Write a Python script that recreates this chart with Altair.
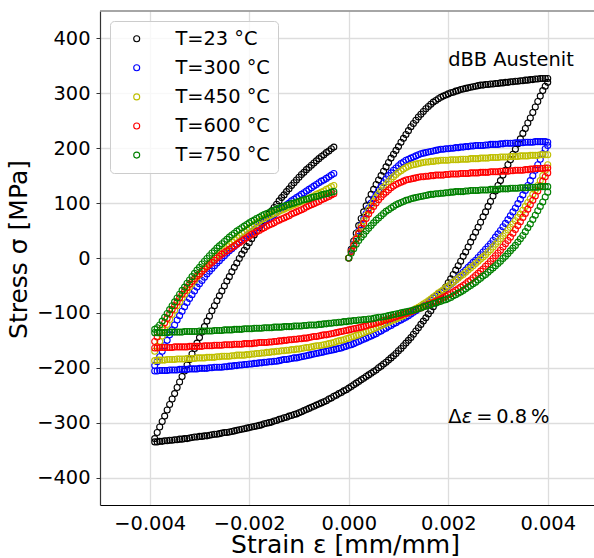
import altair as alt
import pandas as pd

# Strain grids in microstrain (µm/m) for the three branches of each loop
LOAD_STRAIN_UE = [
    0, 50, 100, 150, 200, 250, 300, 350, 400, 450, 500, 550, 600, 650, 700, 750, 800, 850, 900, 950,
    1000, 1050, 1100, 1150, 1200, 1250, 1300, 1350, 1400, 1450, 1500, 1550, 1600, 1650, 1700, 1750, 1800, 1850, 1900, 1950,
    2000, 2050, 2100, 2150, 2200, 2250, 2300, 2350, 2400, 2450, 2500, 2550, 2600, 2650, 2700, 2750, 2800, 2850, 2900, 2950,
    3000, 3050, 3100, 3150, 3200, 3250, 3300, 3350, 3400, 3450, 3500, 3550, 3600, 3650, 3700, 3750, 3800, 3850, 3900, 3950,
    4000]
UNLOAD_STRAIN_UE = [
    4000, 3950, 3900, 3850, 3800, 3750, 3700, 3650, 3600, 3550, 3500, 3450, 3400, 3350, 3300, 3250, 3200, 3150, 3100, 3050,
    3000, 2950, 2900, 2850, 2800, 2750, 2700, 2650, 2600, 2550, 2500, 2450, 2400, 2350, 2300, 2250, 2200, 2150, 2100, 2050,
    2000, 1950, 1900, 1850, 1800, 1750, 1700, 1650, 1600, 1550, 1500, 1450, 1400, 1350, 1300, 1250, 1200, 1150, 1100, 1050,
    1000, 950, 900, 850, 800, 750, 700, 650, 600, 550, 500, 450, 400, 350, 300, 250, 200, 150, 100, 50,
    0, -50, -100, -150, -200, -250, -300, -350, -400, -450, -500, -550, -600, -650, -700, -750, -800, -850, -900, -950,
    -1000, -1050, -1100, -1150, -1200, -1250, -1300, -1350, -1400, -1450, -1500, -1550, -1600, -1650, -1700, -1750, -1800, -1850, -1900, -1950,
    -2000, -2050, -2100, -2150, -2200, -2250, -2300, -2350, -2400, -2450, -2500, -2550, -2600, -2650, -2700, -2750, -2800, -2850, -2900, -2950,
    -3000, -3050, -3100, -3150, -3200, -3250, -3300, -3350, -3400, -3450, -3500, -3550, -3600, -3650, -3700, -3750, -3800, -3850, -3900]
RELOAD_STRAIN_UE = [
    -3900, -3850, -3800, -3750, -3700, -3650, -3600, -3550, -3500, -3450, -3400, -3350, -3300, -3250, -3200, -3150, -3100, -3050, -3000, -2950,
    -2900, -2850, -2800, -2750, -2700, -2650, -2600, -2550, -2500, -2450, -2400, -2350, -2300, -2250, -2200, -2150, -2100, -2050, -2000, -1950,
    -1900, -1850, -1800, -1750, -1700, -1650, -1600, -1550, -1500, -1450, -1400, -1350, -1300, -1250, -1200, -1150, -1100, -1050, -1000, -950,
    -900, -850, -800, -750, -700, -650, -600, -550, -500, -450, -400, -350, -300]

# Stress (MPa) per temperature: loading, unloading, reloading
LOAD_23 = [
    0, 16, 31, 45, 59, 72, 84, 95, 106, 116, 125, 134, 142, 150, 158, 166, 174, 182, 189, 196,
    203, 211, 218, 225, 232, 239, 245, 251, 257, 262, 267, 272, 276, 280, 284, 287, 290, 293, 295, 297,
    299, 301, 302, 304, 305, 307, 308, 309, 310, 311, 312, 313, 314, 315, 315, 316, 316, 317, 317, 318,
    318, 319, 319, 320, 320, 321, 321, 322, 322, 323, 323, 324, 324, 325, 325, 326, 326, 327, 327, 327,
    327]
UNLOAD_23 = [
    320, 313, 305, 295, 285, 275, 265, 255, 246, 236, 227, 217, 208, 198, 189, 179, 170, 160, 151, 141,
    132, 122, 113, 103, 94, 84, 75, 65, 56, 47, 38, 29, 20, 11, 3, -6, -14, -22, -30, -38,
    -45, -53, -60, -68, -75, -82, -89, -96, -102, -109, -115, -121, -127, -133, -139, -145, -150, -155, -160, -165,
    -169, -174, -178, -182, -186, -190, -193, -197, -200, -204, -207, -210, -213, -216, -219, -222, -225, -228, -231, -234,
    -237, -240, -242, -245, -247, -250, -252, -255, -257, -260, -262, -264, -266, -268, -270, -272, -274, -276, -278, -280,
    -282, -284, -285, -287, -288, -290, -291, -293, -294, -296, -297, -299, -300, -301, -302, -304, -305, -306, -307, -308,
    -309, -310, -311, -312, -313, -314, -315, -316, -317, -318, -318, -319, -320, -321, -321, -322, -323, -324, -324, -325,
    -325, -326, -326, -327, -328, -329, -329, -330, -330, -331, -331, -332, -332, -333, -333, -334, -334, -335, -335]
RELOAD_23 = [
    -329, -318, -308, -298, -288, -277, -267, -257, -247, -236, -226, -216, -206, -195, -185, -175, -165, -155, -145, -135,
    -125, -115, -106, -96, -87, -78, -69, -60, -51, -42, -34, -25, -17, -9, -1, 7, 14, 21, 28, 35,
    42, 49, 55, 62, 68, 74, 80, 86, 92, 98, 104, 110, 115, 121, 126, 132, 137, 142, 147, 152,
    156, 161, 165, 169, 173, 177, 181, 185, 188, 192, 195, 199, 202]

LOAD_300 = [
    0, 13, 25, 37, 49, 60, 71, 81, 91, 100, 108, 116, 123, 130, 137, 144, 150, 155, 160, 164,
    168, 172, 175, 178, 180, 182, 184, 186, 188, 190, 191, 192, 193, 194, 195, 196, 197, 198, 198, 199,
    199, 200, 200, 201, 201, 202, 202, 203, 203, 204, 204, 205, 205, 205, 205, 206, 206, 207, 207, 207,
    207, 208, 208, 209, 209, 209, 209, 210, 210, 210, 210, 211, 211, 211, 211, 212, 212, 212, 212, 212,
    211]
UNLOAD_300 = [
    205, 199, 190, 180, 170, 160, 150, 141, 132, 123, 115, 107, 99, 91, 84, 77, 70, 63, 57, 50,
    44, 38, 32, 26, 21, 16, 11, 6, 1, -4, -8, -13, -17, -22, -26, -31, -35, -40, -44, -48,
    -52, -56, -59, -63, -66, -70, -73, -77, -80, -84, -87, -90, -93, -96, -99, -102, -105, -108, -110, -113,
    -115, -118, -120, -123, -125, -128, -130, -133, -135, -138, -140, -142, -144, -146, -148, -150, -152, -154, -156, -158,
    -159, -161, -162, -164, -165, -166, -167, -168, -169, -170, -171, -172, -173, -174, -175, -176, -177, -178, -179, -180,
    -181, -182, -182, -183, -184, -185, -185, -186, -187, -188, -188, -189, -189, -190, -190, -191, -191, -192, -192, -193,
    -193, -194, -194, -195, -195, -196, -196, -197, -197, -198, -198, -199, -199, -199, -199, -200, -200, -201, -201, -201,
    -201, -202, -202, -202, -202, -203, -203, -203, -203, -204, -204, -204, -204, -205, -205, -205, -205, -206, -206]
RELOAD_300 = [
    -196, -189, -180, -170, -160, -150, -140, -131, -122, -113, -105, -97, -89, -81, -74, -67, -60, -53, -47, -41,
    -35, -29, -24, -19, -14, -9, -5, 0, 4, 9, 13, 17, 21, 25, 29, 33, 37, 41, 44, 48,
    51, 55, 58, 62, 65, 69, 72, 76, 79, 83, 86, 90, 93, 97, 100, 104, 107, 110, 113, 116,
    119, 122, 125, 128, 131, 134, 137, 140, 142, 145, 148, 151, 154]

LOAD_450 = [
    0, 12, 24, 36, 47, 58, 68, 78, 87, 95, 103, 110, 117, 123, 129, 134, 139, 144, 148, 152,
    156, 159, 162, 165, 167, 169, 170, 171, 172, 173, 174, 175, 175, 176, 176, 177, 177, 178, 178, 178,
    178, 179, 179, 179, 179, 180, 180, 180, 180, 181, 181, 181, 181, 182, 182, 182, 182, 183, 183, 183,
    183, 184, 184, 184, 184, 185, 185, 185, 185, 186, 186, 186, 186, 187, 187, 187, 187, 188, 188, 188,
    188]
UNLOAD_450 = [
    170, 160, 150, 141, 132, 124, 116, 108, 101, 94, 87, 80, 74, 68, 62, 56, 51, 45, 40, 35,
    30, 25, 20, 15, 11, 6, 2, -2, -6, -10, -14, -18, -22, -26, -30, -33, -37, -40, -44, -47,
    -51, -54, -58, -61, -64, -68, -71, -75, -78, -81, -84, -87, -90, -92, -95, -97, -100, -102, -105, -107,
    -109, -111, -113, -115, -117, -119, -121, -123, -125, -127, -129, -131, -133, -134, -136, -138, -140, -141, -143, -144,
    -146, -147, -149, -150, -151, -152, -154, -155, -156, -157, -158, -159, -160, -160, -161, -162, -163, -163, -164, -165,
    -166, -166, -167, -167, -168, -168, -169, -169, -170, -170, -171, -171, -172, -172, -173, -173, -174, -174, -175, -175,
    -176, -176, -177, -177, -177, -177, -178, -178, -179, -179, -179, -179, -180, -180, -181, -181, -181, -181, -182, -182,
    -182, -182, -183, -183, -183, -183, -184, -184, -184, -184, -185, -185, -185, -185, -186, -186, -186, -186, -187]
RELOAD_450 = [
    -170, -161, -152, -142, -131, -121, -112, -103, -95, -87, -80, -73, -66, -59, -53, -47, -41, -35, -30, -24,
    -19, -14, -9, -4, 0, 5, 9, 13, 17, 21, 25, 29, 33, 37, 41, 45, 48, 52, 55, 58,
    61, 64, 67, 70, 72, 75, 77, 79, 81, 83, 85, 87, 89, 91, 93, 95, 97, 99, 101, 103,
    105, 107, 109, 111, 113, 116, 118, 120, 122, 125, 127, 130, 132]

LOAD_600 = [
    0, 12, 23, 34, 44, 54, 63, 72, 80, 87, 94, 100, 106, 111, 116, 120, 124, 128, 131, 134,
    136, 138, 140, 142, 143, 144, 145, 146, 147, 148, 148, 149, 149, 150, 150, 151, 151, 151, 151, 152,
    152, 153, 153, 153, 153, 154, 154, 154, 154, 155, 155, 155, 155, 156, 156, 156, 156, 157, 157, 157,
    157, 158, 158, 158, 158, 159, 159, 160, 160, 160, 160, 161, 161, 162, 162, 163, 163, 163, 163, 164,
    164]
UNLOAD_600 = [
    155, 148, 140, 131, 122, 113, 105, 97, 89, 81, 74, 66, 59, 52, 45, 38, 32, 26, 20, 14,
    9, 4, -1, -6, -11, -15, -20, -24, -28, -32, -36, -40, -43, -47, -50, -53, -56, -59, -62, -65,
    -67, -70, -72, -75, -77, -79, -81, -83, -85, -87, -89, -91, -92, -94, -96, -98, -99, -101, -102, -104,
    -105, -107, -108, -110, -111, -113, -114, -116, -117, -119, -120, -121, -122, -124, -125, -126, -127, -128, -129, -130,
    -131, -132, -133, -134, -135, -136, -137, -138, -139, -140, -140, -141, -142, -143, -143, -144, -145, -146, -146, -147,
    -147, -148, -148, -149, -149, -150, -150, -151, -151, -152, -152, -153, -153, -154, -154, -154, -154, -155, -155, -156,
    -156, -156, -156, -157, -157, -157, -157, -158, -158, -158, -158, -159, -159, -159, -159, -160, -160, -160, -160, -161,
    -161, -161, -161, -161, -161, -162, -162, -162, -162, -162, -162, -163, -163, -163, -163, -163, -163, -164, -164]
RELOAD_600 = [
    -152, -144, -136, -127, -118, -110, -102, -94, -87, -80, -73, -66, -60, -54, -48, -43, -38, -33, -29, -24,
    -20, -16, -12, -8, -4, 0, 3, 7, 10, 13, 16, 19, 22, 25, 28, 31, 34, 37, 40, 43,
    45, 48, 50, 53, 55, 58, 60, 62, 64, 67, 69, 71, 73, 75, 77, 80, 82, 84, 86, 88,
    90, 93, 95, 97, 99, 101, 103, 106, 108, 110, 112, 115, 117]

LOAD_750 = [
    0, 9, 17, 25, 32, 38, 43, 49, 54, 59, 64, 69, 73, 77, 81, 85, 88, 91, 94, 97,
    99, 101, 103, 105, 106, 108, 109, 110, 111, 112, 113, 114, 115, 116, 116, 117, 117, 118, 118, 119,
    119, 120, 120, 121, 121, 121, 121, 122, 122, 123, 123, 123, 123, 124, 124, 124, 124, 125, 125, 125,
    125, 126, 126, 126, 126, 127, 127, 127, 127, 128, 128, 128, 128, 129, 129, 129, 129, 130, 130, 130,
    130]
UNLOAD_750 = [
    120, 111, 102, 94, 86, 78, 70, 62, 55, 48, 41, 35, 29, 23, 18, 13, 8, 3, -1, -6,
    -10, -14, -18, -22, -26, -30, -33, -37, -40, -44, -47, -50, -53, -56, -59, -62, -64, -67, -69, -72,
    -74, -76, -77, -79, -80, -82, -83, -85, -86, -88, -89, -91, -92, -94, -95, -96, -97, -98, -99, -100,
    -101, -102, -103, -104, -105, -106, -107, -108, -108, -109, -110, -111, -111, -112, -112, -113, -113, -114, -114, -115,
    -115, -116, -116, -117, -117, -118, -118, -119, -119, -120, -120, -121, -121, -122, -122, -122, -122, -123, -123, -124,
    -124, -124, -124, -125, -125, -125, -125, -126, -126, -126, -126, -127, -127, -127, -127, -128, -128, -128, -128, -129,
    -129, -129, -129, -130, -130, -130, -130, -131, -131, -131, -131, -132, -132, -132, -132, -133, -133, -133, -133, -133,
    -133, -134, -134, -134, -134, -134, -134, -135, -135, -135, -135, -135, -135, -136, -136, -136, -136, -136, -136]
RELOAD_750 = [
    -130, -127, -122, -115, -108, -101, -94, -87, -80, -73, -66, -59, -53, -46, -40, -34, -28, -22, -17, -11,
    -6, -1, 4, 9, 13, 18, 22, 26, 30, 34, 38, 42, 45, 49, 52, 55, 58, 61, 64, 67,
    69, 72, 74, 77, 79, 81, 83, 85, 87, 89, 91, 93, 94, 96, 97, 99, 100, 102, 103, 105,
    106, 107, 108, 110, 111, 112, 113, 115, 116, 117, 118, 120, 121]

SERIES = ["T=23 °C", "T=300 °C", "T=450 °C", "T=600 °C", "T=750 °C"]
COLORS = ["#000000", "#0000ff", "#bfbf00", "#ff0000", "#008000"]
BRANCHES = [
    (LOAD_23, UNLOAD_23, RELOAD_23),
    (LOAD_300, UNLOAD_300, RELOAD_300),
    (LOAD_450, UNLOAD_450, RELOAD_450),
    (LOAD_600, UNLOAD_600, RELOAD_600),
    (LOAD_750, UNLOAD_750, RELOAD_750),
]
GRIDS = (LOAD_STRAIN_UE, UNLOAD_STRAIN_UE, RELOAD_STRAIN_UE)

rows = []
for label, stresses in zip(SERIES, BRANCHES):
    for grid, values in zip(GRIDS, stresses):
        if len(grid) != len(values):
            raise ValueError(f"{label}: {len(grid)} strains vs {len(values)} stresses")
        for ue, s in zip(grid, values):
            rows.append({"strain": ue * 1e-6, "stress": s, "series": label})
loops = pd.DataFrame(rows)

label_note = pd.DataFrame({"strain": [0.002], "stress": [350], "text": ["dBB Austenit"]})
range_note = pd.DataFrame({"strain": [0.002], "stress": [-300]})

FONT = "DejaVu Sans"
W, H = 494, 494

x_scale = alt.Scale(domain=[-0.005, 0.00493], nice=False, zero=False)
y_scale = alt.Scale(domain=[-450, 450], nice=False, zero=False)

x_enc = alt.X(
    "strain:Q", scale=x_scale,
    axis=alt.Axis(
        values=[-0.004, -0.002, 0.0, 0.002, 0.004], format=".3f",
        title="Strain ε [mm/mm]", titleFontSize=25, titleFontWeight="normal",
        titleX=245, titleY=47, titleBaseline="alphabetic", titleAlign="center",
        labelFontSize=19.4, labelColor="#000", labelPadding=9, tickSize=0,
        grid=True, gridColor="#dddddd", gridWidth=1.3,
        domainColor="#000", domainWidth=1.2, labelFlush=False,
    ),
)
y_enc = alt.Y(
    "stress:Q", scale=y_scale,
    axis=alt.Axis(
        values=[-400, -300, -200, -100, 0, 100, 200, 300, 400], format="d",
        title="Stress σ [MPa]", titleFontSize=25, titleFontWeight="normal",
        titleAngle=270, titleX=-74, titleY=238, titleBaseline="alphabetic", titleAlign="center",
        labelFontSize=19.4, labelColor="#000", labelPadding=6, tickSize=4,
        tickColor="#333", grid=True, gridColor="#dddddd", gridWidth=1.3,
        domainColor="#333", domainWidth=1.2, labelFlush=False,
    ),
)

points = alt.Chart(loops).mark_point(
    shape="circle", filled=False, size=36, strokeWidth=1.1, opacity=1
).encode(
    x=x_enc,
    y=y_enc,
    color=alt.Color(
        "series:N",
        scale=alt.Scale(domain=SERIES, range=COLORS),
        legend=alt.Legend(
            title=None, orient="none", legendX=10, legendY=10,
            symbolType="circle", symbolSize=36, symbolStrokeWidth=1.1,
            symbolOffset=9, labelOffset=29,
            labelFont=FONT, labelFontSize=19.4, labelColor="#000",
            padding=8, rowPadding=8.1,
            fillColor="rgba(255,255,255,0.8)", strokeColor="#cccccc", cornerRadius=4,
        ),
    ),
)

top_spine = alt.Chart(label_note).mark_rule(color="#888888", strokeWidth=1.5).encode(
    x=alt.value(0), x2=alt.value(W), y=alt.value(0)
)

note = alt.Chart(label_note).mark_text(
    align="left", baseline="alphabetic", font=FONT, fontSize=19.4, color="#000"
).encode(x=x_enc, y=y_enc, text="text:N")

# Δε = 0.8 % in three pieces so that ε can be set in italics
delta = alt.Chart(range_note).mark_text(
    align="left", baseline="alphabetic", font=FONT, fontSize=19.4, color="#000"
).encode(x=x_enc, y=y_enc, text=alt.value("Δ"))
eps = alt.Chart(range_note).mark_text(
    align="left", baseline="alphabetic", font=FONT, fontSize=19.4, fontStyle="italic",
    color="#000", dx=13.4
).encode(x=x_enc, y=y_enc, text=alt.value("ε"))
rest = alt.Chart(range_note).mark_text(
    align="left", baseline="alphabetic", font=FONT, fontSize=19.4, color="#000", dx=28
).encode(x=x_enc, y=y_enc, text=alt.value("=\u20090.8\u2009%"))

chart = alt.layer(points, note, delta, eps, rest, top_spine).properties(
    width=W, height=H,
    padding={"left": 100, "top": 11, "right": 0, "bottom": 53},
    autosize=alt.AutoSizeParams(type="none"),
).configure(font=FONT).configure_view(strokeWidth=0)

chart.save("out.html", embed_options={"renderer": "svg", "actions": False})
